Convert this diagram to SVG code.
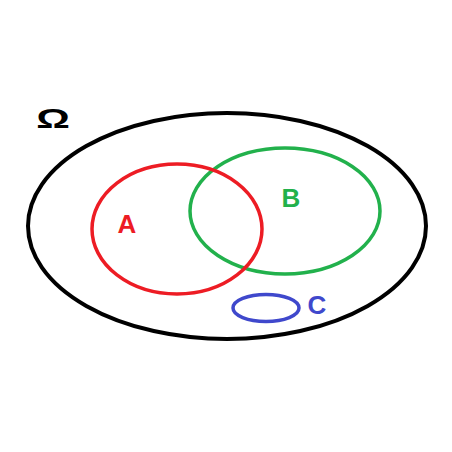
<svg xmlns="http://www.w3.org/2000/svg" width="452" height="452" viewBox="0 0 452 452">
<style>
.set{fill:none;}
.lbl{font-family:"Liberation Sans",Arial,sans-serif;font-weight:bold;font-size:26px;text-anchor:middle;}
</style>
<rect width="452" height="452" fill="#ffffff"/>
<g id="omega">
<text x="0" y="0" transform="translate(53 128) scale(1.5 1)" style="font-family:'Liberation Sans',Arial,sans-serif;font-weight:bold;font-size:28px;text-anchor:middle;fill:#000">Ω</text>
</g>
<g id="universe">
<ellipse class="set" cx="227" cy="226" rx="199" ry="113" stroke="#000000" stroke-width="4"/>
</g>
<g id="setB">
<ellipse class="set" cx="285" cy="211" rx="95" ry="63" stroke="#22B14C" stroke-width="3.5"/>
<text class="lbl" x="291" y="207" fill="#22B14C">B</text>
</g>
<g id="setA">
<ellipse class="set" cx="177" cy="229" rx="85" ry="65" stroke="#ED1C24" stroke-width="3.5"/>
<text class="lbl" x="127" y="233" fill="#ED1C24">A</text>
</g>
<g id="setC">
<ellipse class="set" cx="266" cy="308" rx="33" ry="13.5" stroke="#3F48CC" stroke-width="3.5"/>
<text class="lbl" x="317" y="314" fill="#3F48CC">C</text>
</g>
<g id="connectors"></g>
</svg>
